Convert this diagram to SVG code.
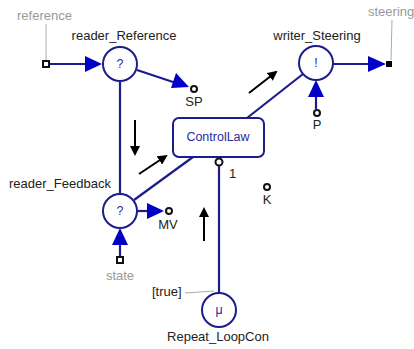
<svg xmlns="http://www.w3.org/2000/svg" width="414" height="349" viewBox="0 0 414 349">
<defs>
<style>
.node{fill:#fff;stroke:#1c1c8c;stroke-width:2}
.wire{stroke:#1c1c8c;stroke-width:2.2;fill:none}
.lead{stroke:#aaa;stroke-width:1;fill:none}
.head{fill:#0000c8;stroke:none}
.port{fill:#fff;stroke:#111;stroke-width:2}
.lbl{font-family:"Liberation Sans",Arial,sans-serif;font-size:13px;fill:#222}
.gray{font-family:"Liberation Sans",Arial,sans-serif;font-size:13px;fill:#999}
.sym{font-family:"Liberation Sans",Arial,sans-serif;font-size:12.5px;fill:#2a2aa0;text-anchor:middle}
.flow{stroke:#000;stroke-width:2;fill:none}
</style>
<marker id="blk" markerWidth="10" markerHeight="10" refX="8" refY="5" orient="auto" markerUnits="userSpaceOnUse">
<path d="M0,0 L10,5 L0,10 Z" fill="#000"/>
</marker>
</defs>
<g id="connectors">
<line class="wire" x1="49" y1="64" x2="88" y2="64"/>
<polygon class="head" points="102,64 85,56 85,72"/>
<line class="wire" x1="137" y1="70" x2="176" y2="83"/>
<polygon class="head" points="189,87 171,88 176,73"/>
<line class="wire" x1="120" y1="82" x2="120" y2="194"/>
<line class="wire" x1="134" y1="200" x2="193" y2="157"/>
<line class="wire" x1="247" y1="118" x2="303" y2="74"/>
<line class="wire" x1="333" y1="64" x2="370" y2="64"/>
<polygon class="head" points="386,64 368,56 368,72"/>
<line class="wire" x1="316" y1="109" x2="316" y2="95"/>
<polygon class="head" points="316,80 308,97 324,97"/>
<line class="wire" x1="137" y1="211" x2="150" y2="211"/>
<polygon class="head" points="164,211 147,203 147,219"/>
<line class="wire" x1="120" y1="257" x2="120" y2="243"/>
<polygon class="head" points="120,228 112,245 128,245"/>
<line class="wire" x1="219" y1="166" x2="219" y2="292"/>
<line class="lead" x1="46" y1="24" x2="46" y2="60"/>
<line class="lead" x1="392" y1="20" x2="391" y2="60"/>
<line class="lead" x1="185" y1="293" x2="214" y2="291"/>
</g>
<g id="flow-arrows">
<line class="flow" x1="135" y1="120" x2="135" y2="154" marker-end="url(#blk)"/>
<line class="flow" x1="139" y1="174" x2="166" y2="156" marker-end="url(#blk)"/>
<line class="flow" x1="204" y1="241" x2="204" y2="209" marker-end="url(#blk)"/>
<line class="flow" x1="249" y1="93" x2="276" y2="72" marker-end="url(#blk)"/>
</g>
<g id="reference">
<rect x="43" y="61" width="6" height="6" fill="#fff" stroke="#111" stroke-width="2"/>
<text class="gray" x="17" y="20">reference</text>
</g>
<g id="reader_Reference">
<circle class="node" cx="120" cy="64" r="17"/>
<text class="sym" x="120" y="68">?</text>
<text class="lbl" x="124" y="40" text-anchor="middle">reader_Reference</text>
</g>
<g id="SP">
<circle class="port" cx="194" cy="89" r="3"/>
<text class="lbl" x="194" y="106" text-anchor="middle">SP</text>
</g>
<g id="writer_Steering">
<circle class="node" cx="316" cy="63" r="17"/>
<text class="sym" x="316" y="67">!</text>
<text class="lbl" x="317" y="40" text-anchor="middle">writer_Steering</text>
</g>
<g id="steering">
<rect x="386" y="61" width="6" height="6" fill="#000"/>
<text class="gray" x="368" y="16">steering</text>
</g>
<g id="P">
<circle class="port" cx="317" cy="113" r="3"/>
<text class="lbl" x="317" y="129" text-anchor="middle">P</text>
</g>
<g id="ControlLaw">
<rect class="node" x="173" y="118" width="91" height="39" rx="6"/>
<text class="sym" x="218" y="141">ControlLaw</text>
<circle class="port" cx="219" cy="162" r="3.5"/>
<text class="lbl" x="229" y="178">1</text>
</g>
<g id="K">
<circle class="port" cx="267" cy="187" r="3"/>
<text class="lbl" x="267" y="204" text-anchor="middle">K</text>
</g>
<g id="reader_Feedback">
<circle class="node" cx="120" cy="211" r="17"/>
<text class="sym" x="120" y="215">?</text>
<text class="lbl" x="9" y="188">reader_Feedback</text>
</g>
<g id="MV">
<circle class="port" cx="169" cy="211" r="3"/>
<text class="lbl" x="168" y="229" text-anchor="middle">MV</text>
</g>
<g id="state">
<rect x="117" y="257" width="6" height="6" fill="#fff" stroke="#111" stroke-width="2"/>
<text class="gray" x="120" y="280" text-anchor="middle">state</text>
</g>
<g id="Repeat_LoopCon">
<circle class="node" cx="219" cy="310" r="17"/>
<text class="sym" x="219" y="314">μ</text>
<text class="lbl" x="218" y="341" text-anchor="middle">Repeat_LoopCon</text>
<text class="lbl" x="152" y="296">[true]</text>
</g>
</svg>
